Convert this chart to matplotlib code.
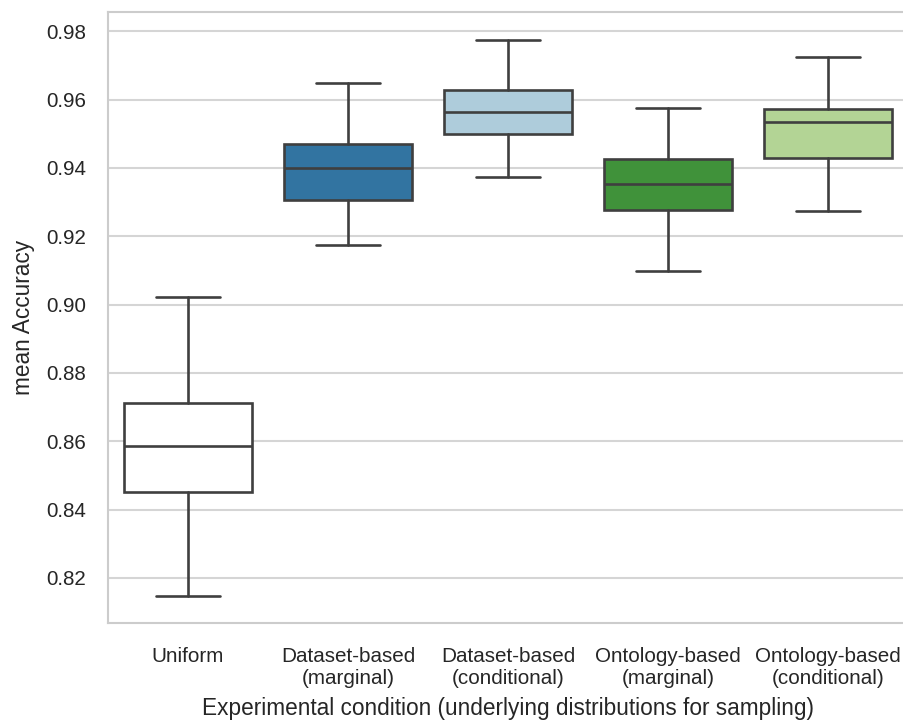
import matplotlib
matplotlib.use("Agg")
import matplotlib.pyplot as plt
import seaborn as sns

# ── Data ────────────────────────────────────────────────────────────────
conditions = [
    "Uniform",
    "Dataset-based\n(marginal)",
    "Dataset-based\n(conditional)",
    "Ontology-based\n(marginal)",
    "Ontology-based\n(conditional)",
]
whisker_low = [0.8147, 0.9173, 0.9373, 0.9098, 0.9275]
q1 = [0.8450, 0.9306, 0.9498, 0.9276, 0.9429]
median = [0.8586, 0.9400, 0.9562, 0.9352, 0.9535]
q3 = [0.8713, 0.9469, 0.9627, 0.9426, 0.9573]
whisker_high = [0.9023, 0.9649, 0.9774, 0.9574, 0.9724]
box_colors = ["#ffffff", "#1f78b4", "#a6cee3", "#33a02c", "#b2df8a"]

yticks = [0.82, 0.84, 0.86, 0.88, 0.90, 0.92, 0.94, 0.96, 0.98]

# ── Plot ────────────────────────────────────────────────────────────────
sns.set_theme(style="whitegrid")
plt.rcParams["font.family"] = ["Liberation Sans", "DejaVu Sans"]

fig = plt.figure(figsize=(9.04, 7.2), dpi=100)
ax = fig.add_axes([0.1195, 0.1347, 0.885, 0.8486])

stats = []
for i, name in enumerate(conditions):
    stats.append({
        "label": name, "whislo": whisker_low[i], "q1": q1[i], "med": median[i],
        "q3": q3[i], "whishi": whisker_high[i], "fliers": [],
    })

line_col = "#3f3f3f"
lw = 1.9
bp = ax.bxp(stats, positions=range(len(stats)), widths=0.8, patch_artist=True,
            showfliers=False,
            boxprops=dict(edgecolor=line_col, linewidth=lw),
            medianprops=dict(color=line_col, linewidth=lw),
            whiskerprops=dict(color=line_col, linewidth=lw),
            capprops=dict(color=line_col, linewidth=lw))
for patch, c in zip(bp["boxes"], box_colors):
    fc = c if c == "#ffffff" else sns.desaturate(c, 0.75)
    patch.set_facecolor(fc)
    patch.set_zorder(2)

ax.set_xlim(-0.5, len(stats) - 0.5)
ax.set_ylim(0.8068, 0.9856)
ax.set_yticks(yticks)
ax.set_yticklabels([f"{t:.2f}" for t in yticks])
ax.set_xticks(range(len(stats)))
ax.set_xticklabels(conditions)
ax.tick_params(axis="both", labelsize=14.9, colors="#262626")
ax.tick_params(axis="x", pad=11)
ax.tick_params(axis="y", pad=10)
ax.grid(axis="x", visible=False)
ax.grid(axis="y", color="#d5d5d5", linewidth=1.5)
ax.set_axisbelow(True)
for sp in ax.spines.values():
    sp.set_color("#cccccc")
    sp.set_linewidth(1.5)

ax.set_ylabel("mean Accuracy", fontsize=16.3, color="#262626", labelpad=8)
ax.set_xlabel("Experimental condition (underlying distributions for sampling)",
              fontsize=16.3, color="#262626", labelpad=7)

fig.savefig("out.png", dpi=100)
